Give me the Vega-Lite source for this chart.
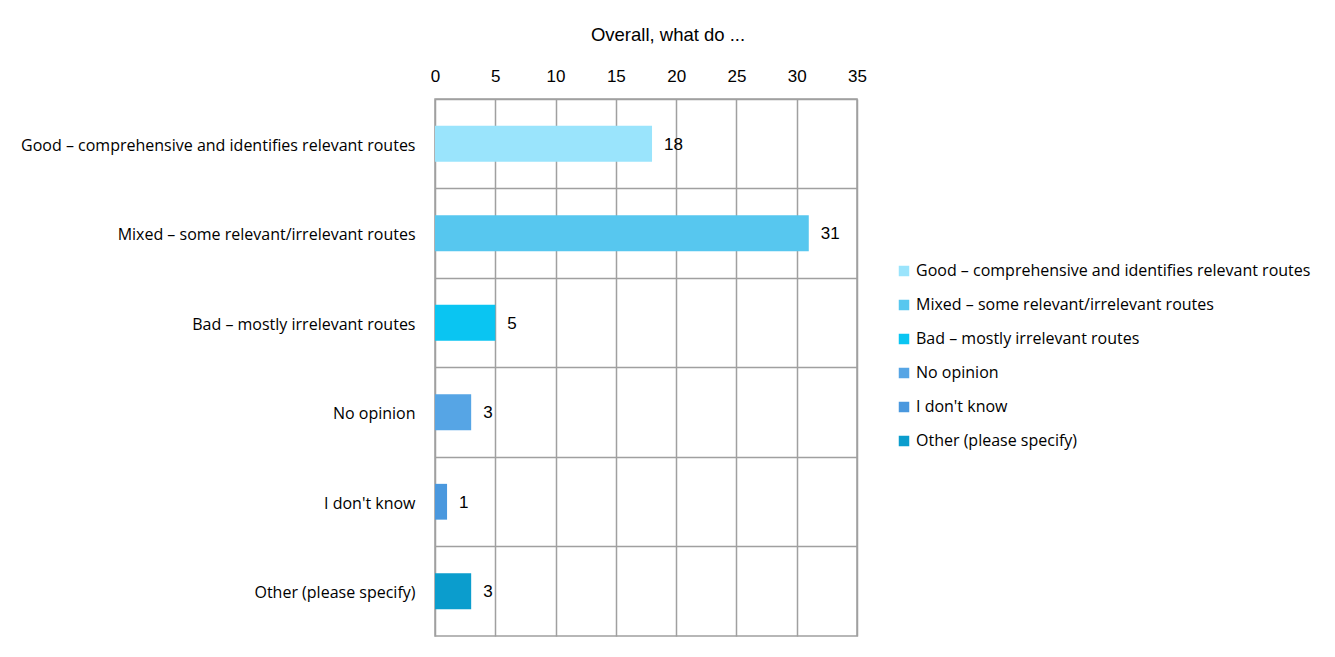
{
  "$schema": "https://vega.github.io/schema/vega-lite/v6.json",
  "autosize": "none",
  "width": 422,
  "height": 537,
  "padding": {"left": 435, "top": 99, "right": 478, "bottom": 21},
  "background": "white",
  "title": {
    "text": "Overall, what do ...",
    "font": "Liberation Sans",
    "fontSize": 18.5,
    "fontWeight": "normal",
    "color": "#000000",
    "anchor": "middle",
    "dx": 22,
    "offset": 23
  },
  "data": {
    "values": [
      {"answer": "Good – comprehensive and identifies relevant routes", "count": 18},
      {"answer": "Mixed – some relevant/irrelevant routes", "count": 31},
      {"answer": "Bad – mostly irrelevant routes", "count": 5},
      {"answer": "No opinion", "count": 3},
      {"answer": "I don't know", "count": 1},
      {"answer": "Other (please specify)", "count": 3}
    ]
  },
  "encoding": {
    "y": {
      "field": "answer",
      "type": "nominal",
      "sort": null,
      "scale": {"paddingInner": 0, "paddingOuter": 0},
      "axis": {
        "title": null,
        "grid": true,
        "bandPosition": 0,
        "gridColor": "#a0a0a0",
        "gridWidth": 1.5,
        "ticks": false,
        "domain": false,
        "labelFont": "Open Sans",
        "labelFontSize": 16,
        "labelColor": "#000000",
        "labelPadding": 20,
        "labelOffset": 2,
        "labelLimit": 500
      }
    },
    "x": {
      "field": "count",
      "type": "quantitative",
      "scale": {"domain": [0, 35], "nice": false},
      "axis": {
        "orient": "top",
        "title": null,
        "values": [0, 5, 10, 15, 20, 25, 30, 35],
        "grid": true,
        "gridColor": "#a0a0a0",
        "gridWidth": 1.5,
        "ticks": false,
        "domain": false,
        "labelFlush": false,
        "labelFont": "Liberation Sans",
        "labelFontSize": 17,
        "labelColor": "#000000",
        "labelPadding": 14
      }
    }
  },
  "layer": [
    {
      "mark": {"type": "bar", "height": {"band": 0.4}},
      "encoding": {
        "color": {
          "field": "answer",
          "type": "nominal",
          "sort": null,
          "scale": {
            "domain": [
              "Good – comprehensive and identifies relevant routes",
              "Mixed – some relevant/irrelevant routes",
              "Bad – mostly irrelevant routes",
              "No opinion",
              "I don't know",
              "Other (please specify)"
            ],
            "range": ["#9ae4fc", "#57c7ef", "#0ac5f2", "#56a5e5", "#4a98de", "#0b9dcd"]
          },
          "legend": {
            "title": null,
            "orient": "none",
            "legendX": 461,
            "legendY": 164,
            "symbolType": "square",
            "symbolSize": 110,
            "symbolStrokeWidth": 0,
            "labelFont": "Open Sans",
            "labelFontSize": 16,
            "labelColor": "#000000",
            "rowPadding": 18,
            "labelOffset": 4,
            "labelLimit": 500
          }
        }
      }
    },
    {
      "mark": {"type": "text", "align": "left", "dx": 12, "dy": 1, "font": "Liberation Sans", "fontSize": 17, "color": "#000000"},
      "encoding": {"text": {"field": "count", "type": "quantitative"}}
    }
  ],
  "config": {
    "view": {"stroke": "#a0a0a0", "strokeWidth": 1.5}
  }
}
